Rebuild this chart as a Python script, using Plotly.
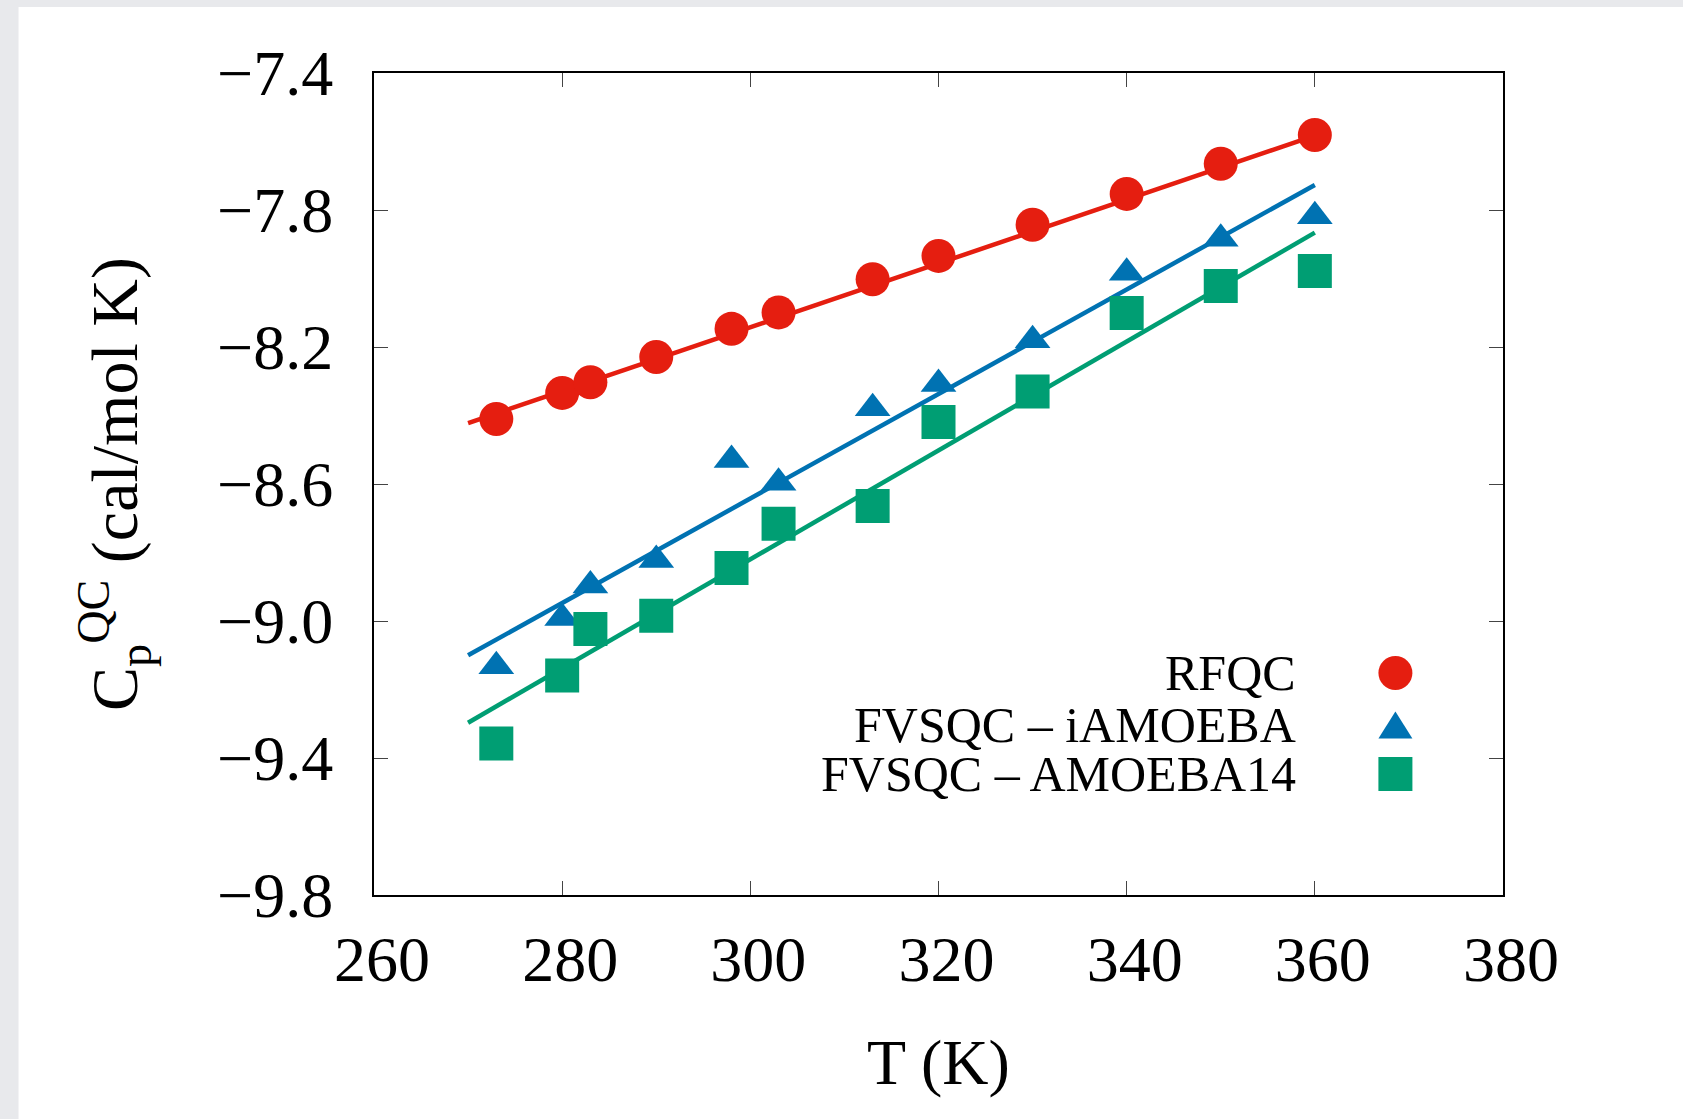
import plotly.graph_objects as go

# ---- data ----
T = [273, 280, 283, 290, 298, 303, 313, 320, 330, 340, 350, 360]
rfqc = [-8.410, -8.334, -8.303, -8.229, -8.147, -8.099, -8.002, -7.934, -7.843, -7.753, -7.665, -7.581]
iamoeba = [-9.132, -8.991, -8.896, -8.822, -8.530, -8.596, -8.379, -8.308, -8.180, -7.983, -7.884, -7.818]
amoeba14 = [-9.358, -9.159, -9.023, -8.985, -8.845, -8.716, -8.664, -8.419, -8.330, -8.101, -8.022, -7.978]

fit_T = [270, 360]
rfqc_fit = [-8.422, -7.583]
iamoeba_fit = [-9.100, -7.727]
amoeba14_fit = [-9.297, -7.866]

names = ["RFQC", "FVSQC \u2013 iAMOEBA", "FVSQC \u2013 AMOEBA14"]
x_ticks = [260, 280, 300, 320, 340, 360, 380]
y_ticks = [-9.8, -9.4, -9.0, -8.6, -8.2, -7.8, -7.4]

RED, BLUE, GREEN = "#e51e10", "#0072b2", "#009e73"
FONT = "Liberation Serif"

W, H = 1683, 1119
L, R, TOP, B = 373.5, 1502.6, 73, 895

fig = go.Figure()

series = [
    (rfqc, rfqc_fit, RED, "circle", 34),
    (iamoeba, iamoeba_fit, BLUE, "triangle-up", 31),
    (amoeba14, amoeba14_fit, GREEN, "square", 34),
]
for (vals, fit, col, sym, sz), nm in zip(series, names):
    fig.add_trace(go.Scatter(x=fit_T, y=fit, mode="lines",
                             line=dict(color=col, width=4.5), showlegend=False, hoverinfo="skip"))
    fig.add_trace(go.Scatter(x=T, y=vals, mode="markers", name=nm,
                             marker=dict(symbol=sym, size=sz, color=col, line=dict(width=0)),
                             showlegend=False))

def px_x(p):
    return (p - L) / (R - L)

def px_y(p):
    return (B - p) / (B - TOP)

shapes = [
    dict(type="rect", xref="paper", yref="paper", layer="below",
         x0=px_x(18), x1=px_x(W + 5), y0=px_y(H + 5), y1=px_y(7),
         fillcolor="white", line=dict(width=0)),
]

# manual legend (text right-aligned, key on the right, as in the reference)
leg_text_x = px_x(1298)
leg_key_x = px_x(1395)
leg_rows = [px_y(673), px_y(725), px_y(774)]
annotations = []
for nm, yy in zip(names, leg_rows):
    annotations.append(dict(xref="paper", yref="paper", x=leg_text_x, y=yy,
                            xanchor="right", yanchor="middle", text=nm, showarrow=False,
                            font=dict(family=FONT, size=50, color="black")))
shapes.append(dict(type="circle", xref="paper", yref="paper", xsizemode="pixel", ysizemode="pixel",
                   xanchor=leg_key_x, yanchor=leg_rows[0], x0=-17, x1=17, y0=-17, y1=17,
                   fillcolor=RED, line=dict(width=0)))
shapes.append(dict(type="path", xref="paper", yref="paper", xsizemode="pixel", ysizemode="pixel",
                   xanchor=leg_key_x, yanchor=leg_rows[1],
                   path="M-17,-13.5 L17,-13.5 L0,13.5 Z",
                   fillcolor=BLUE, line=dict(width=0)))
shapes.append(dict(type="rect", xref="paper", yref="paper", xsizemode="pixel", ysizemode="pixel",
                   xanchor=leg_key_x, yanchor=leg_rows[2], x0=-17, x1=17, y0=-17, y1=17,
                   fillcolor=GREEN, line=dict(width=0)))

axis_common = dict(showline=True, linecolor="black", linewidth=2, mirror="ticks",
                   ticks="inside", ticklen=14, tickwidth=1, tickcolor="#444",
                   showgrid=False, zeroline=False,
                   tickfont=dict(family=FONT, size=64, color="black"))

fig.update_layout(
    width=W, height=H,
    margin=dict(l=L, r=W - R, t=TOP, b=H - B, autoexpand=False),
    paper_bgcolor="#e8e9ec", plot_bgcolor="white",
    shapes=shapes, annotations=annotations, showlegend=False,
    xaxis=dict(range=[260, 380], tickvals=x_ticks, ticklabelstandoff=7, ticklabelshift=8,
               title=dict(text="T (K)", font=dict(family=FONT, size=64, color="black"), standoff=45),
               **axis_common),
    yaxis=dict(range=[-9.8, -7.4], tickvals=y_ticks, tickformat=".1f", ticklabelstandoff=26,
               title=dict(text="C<sub>p</sub><sup>QC</sup> (cal/mol K)",
                          font=dict(family=FONT, size=66, color="black"), standoff=58),
               **axis_common),
)

fig.write_html("out.html")
